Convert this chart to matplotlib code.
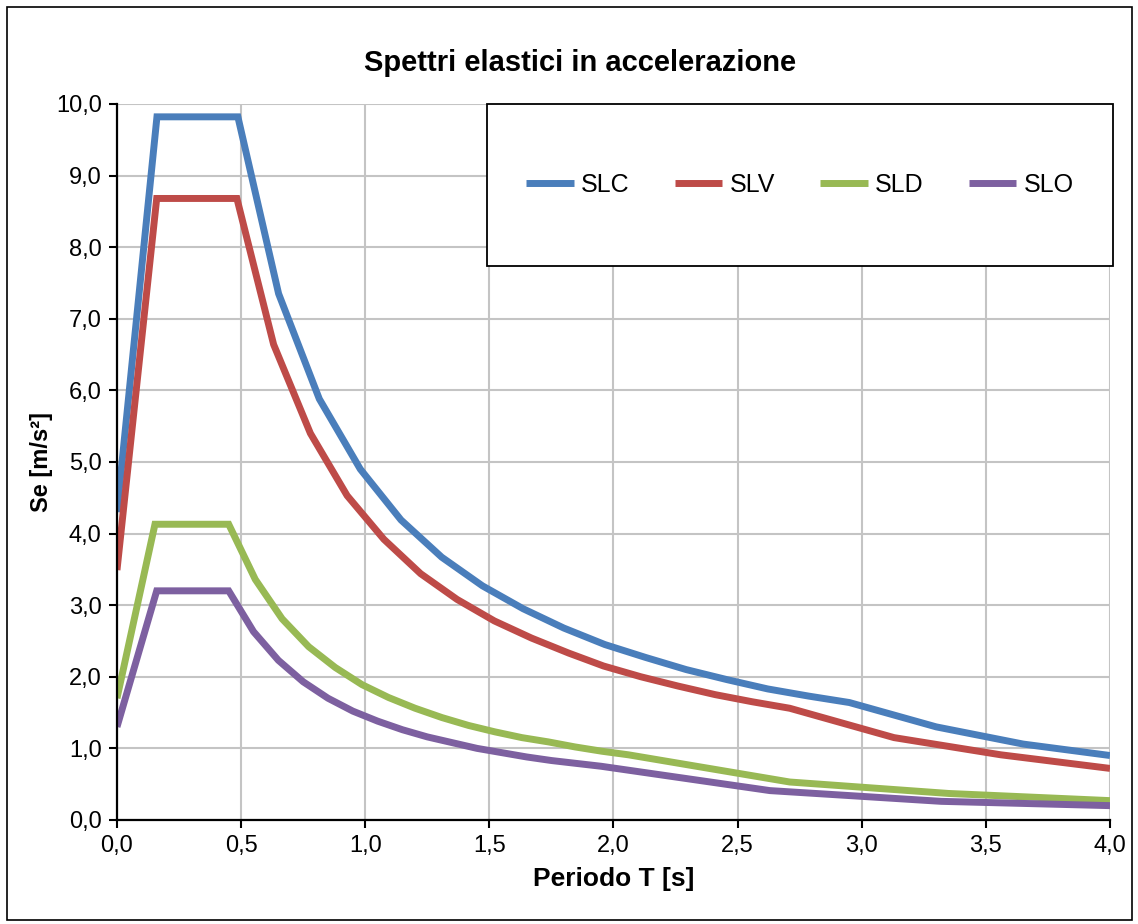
import numpy as np
import matplotlib
matplotlib.use("Agg")
import matplotlib.pyplot as plt
from matplotlib.ticker import FuncFormatter, MultipleLocator
from matplotlib.patches import Rectangle

plt.rcParams["font.family"] = ["Liberation Sans", "DejaVu Sans"]

# periods [s] and spectral accelerations [m/s2]
T_slc = [0.0, 0.161, 0.487, 0.651, 0.815, 0.980, 1.144, 1.308, 1.472, 1.636, 1.800,
         1.965, 2.129, 2.293, 2.457, 2.621, 2.786, 2.950, 3.300, 3.650, 4.000]
S_slc = [4.30, 9.82, 9.82, 7.35, 5.88, 4.90, 4.19, 3.67, 3.27, 2.95, 2.68,
         2.45, 2.27, 2.10, 1.96, 1.83, 1.73, 1.64, 1.30, 1.06, 0.90]

T_slv = [0.0, 0.160, 0.483, 0.631, 0.779, 0.927, 1.075, 1.223, 1.370, 1.520, 1.670,
         1.820, 1.960, 2.110, 2.260, 2.410, 2.560, 2.710, 3.130, 3.560, 4.000]
S_slv = [3.49, 8.68, 8.68, 6.64, 5.40, 4.53, 3.92, 3.44, 3.08, 2.78, 2.54,
         2.33, 2.15, 2.00, 1.87, 1.75, 1.65, 1.56, 1.15, 0.91, 0.72]

T_sld = [0.0, 0.153, 0.450, 0.557, 0.665, 0.772, 0.879, 0.987, 1.094, 1.201, 1.309,
         1.416, 1.523, 1.631, 1.738, 1.845, 1.953, 2.060, 2.710, 3.350, 4.000]
S_sld = [1.70, 4.13, 4.13, 3.36, 2.81, 2.42, 2.13, 1.89, 1.71, 1.56, 1.43,
         1.32, 1.23, 1.15, 1.09, 1.02, 0.96, 0.91, 0.53, 0.37, 0.27]

T_slo = [0.0, 0.160, 0.450, 0.550, 0.650, 0.750, 0.850, 0.950, 1.050, 1.150, 1.250,
         1.350, 1.450, 1.550, 1.650, 1.750, 1.850, 1.950, 2.630, 3.320, 4.000]
S_slo = [1.30, 3.20, 3.20, 2.63, 2.23, 1.93, 1.70, 1.52, 1.38, 1.26, 1.16,
         1.08, 1.00, 0.94, 0.88, 0.83, 0.79, 0.75, 0.41, 0.26, 0.20]

labels = ["SLC", "SLV", "SLD", "SLO"]
colors = ["#4A7EBB", "#BE4B48", "#98B954", "#7D60A0"]

fig = plt.figure(figsize=(11.38, 9.24), dpi=100)
ax = fig.add_axes([0.1028, 0.1126, 0.8726, 0.7749])

series = [(T_slc, S_slc), (T_slv, S_slv), (T_sld, S_sld), (T_slo, S_slo)]
for (t, s), lab, c in zip(series, labels, colors):
    ax.plot(t, s, color=c, lw=5, label=lab, solid_joinstyle="miter",
            solid_capstyle="butt", zorder=3)

ax.set_xlim(0, 4.0)
ax.set_ylim(0, 10.0)
ax.xaxis.set_major_locator(MultipleLocator(0.5))
ax.yaxis.set_major_locator(MultipleLocator(1.0))
comma = FuncFormatter(lambda v, p: f"{v:.1f}".replace(".", ","))
ax.xaxis.set_major_formatter(comma)
ax.yaxis.set_major_formatter(comma)
ax.tick_params(labelsize=17, direction="out", length=6, width=1.5, pad=5)
ax.grid(True, color="#C4C4C4", lw=1.5, zorder=0)
ax.set_axisbelow(True)
for side in ["top", "right"]:
    ax.spines[side].set_visible(False)
for side in ["left", "bottom"]:
    ax.spines[side].set_linewidth(1.6)
    ax.spines[side].set_zorder(4)

ax.set_xlabel("Periodo T [s]", fontsize=19, fontweight="bold", labelpad=7)
ax.set_ylabel("Se [m/s²]", fontsize=17, fontweight="bold", labelpad=2)
fig.text(0.51, 0.932, "Spettri elastici in accelerazione", ha="center", va="center",
         fontsize=21, fontweight="bold")

# legend box
box = Rectangle((0.3726, 0.7737), 0.6304, 0.2263, transform=ax.transAxes,
                facecolor="white", edgecolor="black", lw=1.3, zorder=5, clip_on=False)
ax.add_patch(box)
leg = ax.legend(loc="center", bbox_to_anchor=(0.6878, 0.8868), ncol=4, frameon=False,
                fontsize=18, handlelength=1.9, handletextpad=0.3, columnspacing=1.8)
leg.set_zorder(6)

fig.patches.append(Rectangle((0.006, 0.004), 0.989, 0.988, transform=fig.transFigure,
                             fill=False, edgecolor="black", lw=1.2))

plt.savefig("out.png", dpi=100)
